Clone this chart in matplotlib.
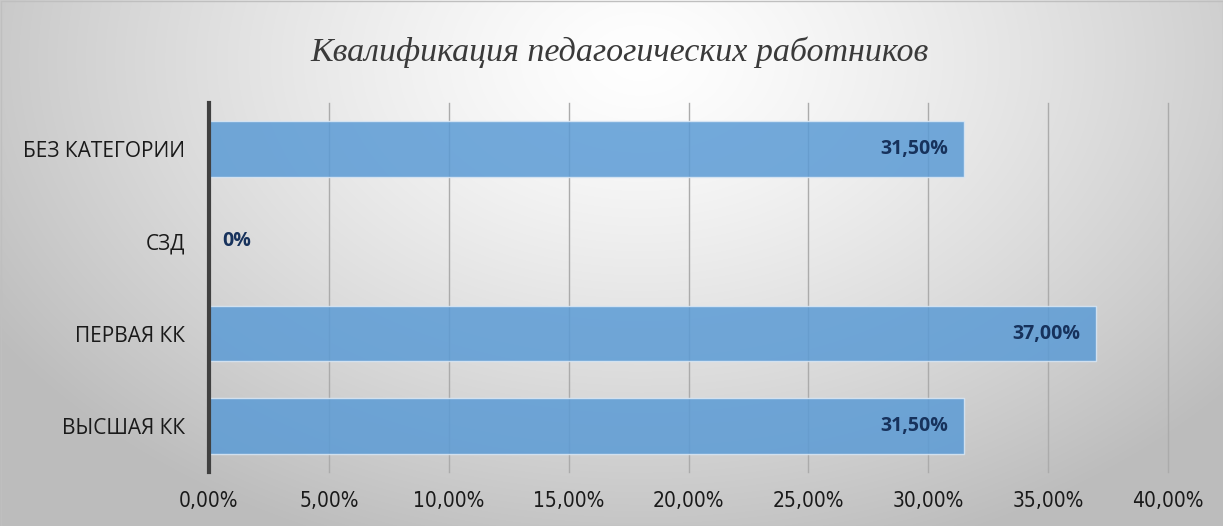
import matplotlib.pyplot as plt
import numpy as np

categories = ["ВЫСШАЯ КК", "ПЕРВАЯ КК", "СЗД", "БЕЗ КАТЕГОРИИ"]
values = [31.5, 37.0, 0.0, 31.5]
value_labels = ["31,50%", "37,00%", "0%", "31,50%"]
xticks = [0, 5, 10, 15, 20, 25, 30, 35, 40]
xtick_labels = ["0,00%", "5,00%", "10,00%", "15,00%", "20,00%", "25,00%", "30,00%", "35,00%", "40,00%"]
title = "Квалификация педагогических работников"

W, H = 1223, 526
fig = plt.figure(figsize=(W / 100, H / 100), dpi=100)

# radial gradient background (white near top-centre, grey at edges)
bg = fig.add_axes([0, 0, 1, 1], zorder=-10)
yy, xx = np.mgrid[0:H, 0:W]
r = np.sqrt(((xx - 640) / 760.0) ** 2 + ((yy - 60) / 520.0) ** 2)
shade = np.clip(1.0 - 0.26 * r ** 1.3, 0.74, 1.0)
bg.imshow(np.dstack([shade] * 3), extent=[0, W, H, 0], aspect="auto")
bg.set_xlim(0, W)
bg.set_ylim(H, 0)
bg.axis("off")
bg.add_patch(plt.Rectangle((0.5, 0.5), W - 1, H - 1, fill=False, edgecolor="#bfbfbf", linewidth=1))

ax = fig.add_axes([209 / W, 1 - 472 / H, (1168 - 209) / W, (472 - 103) / H])
ax.patch.set_alpha(0)

y = np.arange(len(categories))
ax.barh(y, values, height=0.6, color="#5b9bd5", alpha=0.85,
        edgecolor="#dbe8f5", linewidth=1, zorder=3)

for yi, v, lab in zip(y, values, value_labels):
    if v > 0:
        ax.text(v - 0.65, yi, lab, ha="right", va="center", fontsize=14,
                fontweight="bold", color="#17325c", family="Open Sans", zorder=4)
    else:
        ax.text(0.55, yi, lab, ha="left", va="center", fontsize=14,
                fontweight="bold", color="#17325c", family="Open Sans", zorder=4)

ax.set_xlim(0, 40)
ax.set_ylim(-0.5, 3.5)
ax.set_xticks(xticks, xtick_labels)
ax.set_yticks(y, categories)
ax.grid(axis="x", color="#ababab", linewidth=1, zorder=1)
ax.grid(axis="y", visible=False)
for gl in ax.get_xgridlines():
    gl.set_clip_on(False)
ax.tick_params(axis="x", length=0, pad=14, labelsize=15, labelcolor="#1a1a1a")
ax.tick_params(axis="y", length=0, pad=17, labelsize=15, labelcolor="#1a1a1a")
for lbl in ax.get_xticklabels():
    lbl.set_family("DejaVu Sans")
    lbl.set_fontstretch("condensed")
for lbl in ax.get_yticklabels():
    lbl.set_family("Open Sans")
for s in ["top", "right", "bottom"]:
    ax.spines[s].set_visible(False)
ax.spines["left"].set_color("#404040")
ax.spines["left"].set_linewidth(3)
ax.spines["left"].set_zorder(5)

fig.text(620 / W, 1 - 52 / H, title, ha="center", va="center", fontsize=24.5,
         style="italic", family="Liberation Serif", color="#3a3a3a")

fig.savefig("out.png", dpi=100)
